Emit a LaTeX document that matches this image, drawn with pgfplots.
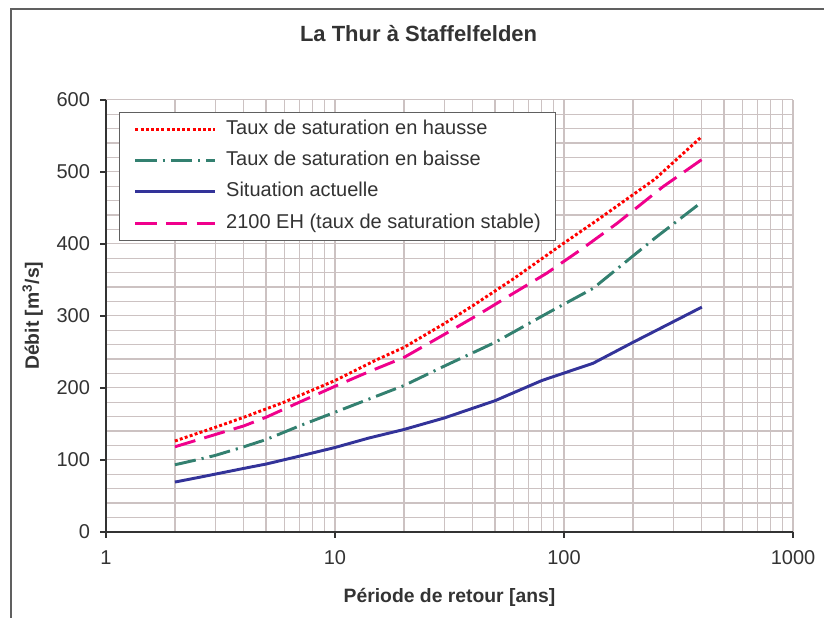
\documentclass[border=0pt]{standalone}
\usepackage{fontspec}
\setmainfont{Liberation Sans}
\usepackage{pgfplots}
\pgfplotsset{compat=1.18}

\definecolor{txt}{RGB}{51,51,51}
\definecolor{gridc}{RGB}{204,194,194}
\definecolor{axc}{RGB}{51,51,51}
\definecolor{frame}{RGB}{96,96,96}
\definecolor{hausse}{RGB}{255,0,0}
\definecolor{baisse}{RGB}{51,128,112}
\definecolor{actuel}{RGB}{51,51,153}
\definecolor{eh}{RGB}{240,0,140}

\begin{document}
\begin{tikzpicture}
  \begin{axis}[
    at={(0,0)}, anchor=south west,
    scale only axis,
    width=515.25pt, height=324pt,
    xmode=log, xmin=1, xmax=1000,
    ymin=0, ymax=600,
    xtick={1,10,100,1000},
    xticklabels={1,10,100,1000},
    ytick={0,100,...,600},
    minor y tick num=4,
    axis x line*=bottom, axis y line*=left,
    axis line style={axc, line width=1.5pt, -},
    tick align=outside,
    major tick length=4.5pt, minor tick length=0pt,
    tick style={axc, line width=1.2pt},
    grid=both,
    major grid style={gridc, line width=0.9pt},
    minor grid style={gridc, line width=0.9pt},
    /pgf/number format/assume math mode=true,
    ticklabel style={font=\fontsize{15}{17}\selectfont, text=txt},
    yticklabel style={xshift=-4pt},
    xticklabel style={yshift=-6pt},
    title={La Thur à Staffelfelden},
    title style={font=\bfseries\fontsize{16.5}{19}\selectfont, text=txt,
      at={(axis description cs:0.455,1.1336)}, anchor=center},
    xlabel={Période de retour [ans]},
    xlabel style={font=\bfseries\fontsize{14.5}{17}\selectfont, text=txt,
      at={(axis description cs:0.5,-0.151)}, anchor=center},
    ylabel={Débit [m\textsuperscript{3}/s]},
    ylabel style={font=\bfseries\fontsize{14.5}{17}\selectfont, text=txt,
      at={(axis description cs:-0.1067,0.5)}, anchor=center},
    legend cell align=left,
    legend image code/.code={\draw[line width=2.2pt,#1] (0pt,0pt) -- (60pt,0pt);},
    legend style={
      at={(axis description cs:0.0189,0.972)}, anchor=north west,
      draw=frame, fill=white,
      font=\fontsize{15}{18}\selectfont, text=txt,
      inner xsep=11pt, inner ysep=5.5pt,
      row sep=9pt,
      nodes={inner sep=0pt, text height=11pt, text depth=3.5pt},
      /tikz/every odd column/.append style={column sep=7pt},
    },
  ]
    % Taux de saturation en hausse
    \addplot[hausse, line width=2.2pt, dash pattern=on 2.2pt off 1.7pt] coordinates {
      (2,126) (3,145) (4,159) (6,180) (10,210) (15,238) (20,256) (30,289)
      (40,314) (60,351) (100,401) (140,433) (200,468) (250,490) (400,549)};
    \addlegendentry{Taux de saturation en hausse}
    % Taux de saturation en baisse
    \addplot[baisse, line width=2.2pt, dash pattern=on 16pt off 4.5pt on 1.6pt off 4.5pt] coordinates {
      (2,93) (2.5,100) (3,106) (4,118) (5,128) (7,147) (10,166) (14,184)
      (20,203) (30,230) (50,263) (84,303) (134,338) (250,408) (400,458)};
    \addlegendentry{Taux de saturation en baisse}
    % Situation actuelle
    \addplot[actuel, line width=2.2pt] coordinates {
      (2,69) (2.5,75) (3,80) (4,88) (5,94) (7,105) (10,117) (14,130)
      (20,142) (30,158) (50,182) (80,210) (134,234) (200,263) (400,312)};
    \addlegendentry{Situation actuelle}
    % 2100 EH
    \addplot[eh, line width=2.2pt, dash pattern=on 16pt off 7pt] coordinates {
      (2,118) (3,135) (4,147) (5,159) (7,180) (10,202) (14,222) (20,242)
      (30,274) (43,303) (60,331) (84,359) (120,393) (170,428) (270,479) (400,517)};
    \addlegendentry{2100 EH (taux de saturation stable)}
  \end{axis}
  \draw[frame, line width=1.3pt] (-71.25pt,-80pt) -- (-71.25pt,392pt) -- (560pt,392pt);
  \pgfresetboundingbox
  \useasboundingbox (-79.5pt,-64pt) rectangle (538.5pt,398.8pt);
\end{tikzpicture}
\end{document}
